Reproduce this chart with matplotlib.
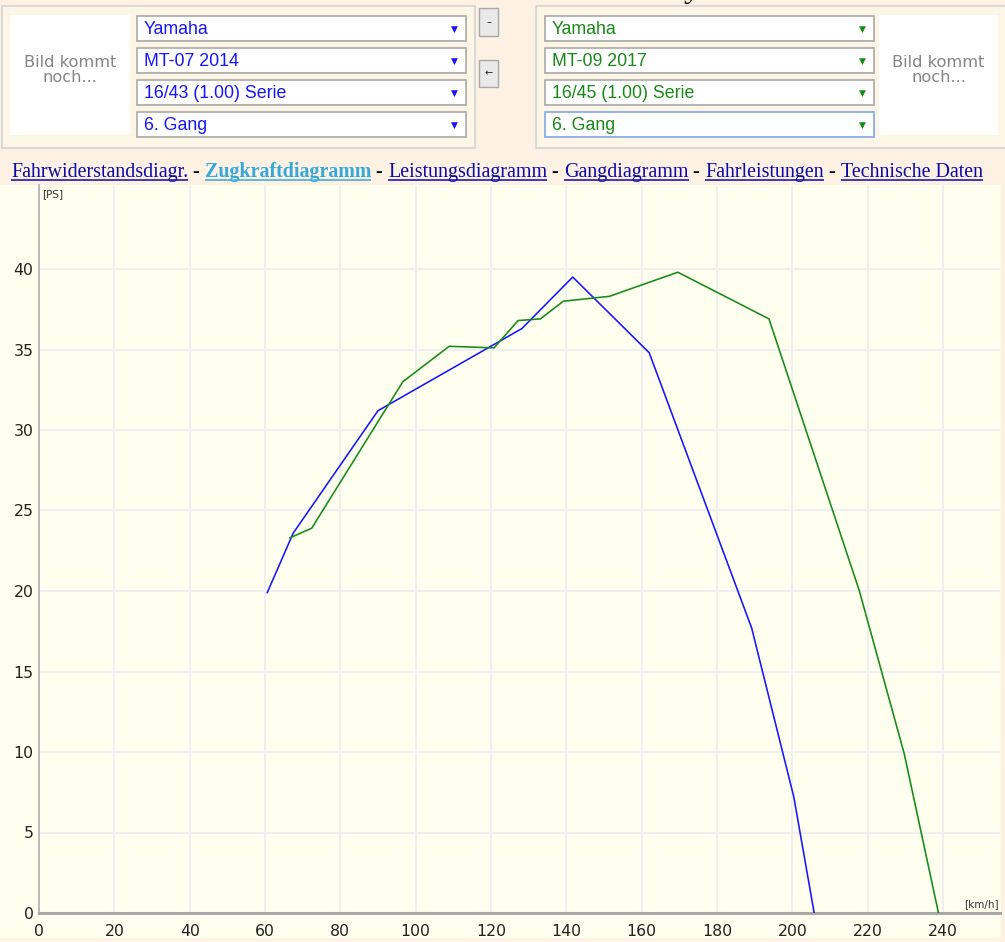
import matplotlib
matplotlib.use("Agg")
import matplotlib.pyplot as plt
from matplotlib.patches import Rectangle

# ---------------- data ----------------
blue_kmh = [60.6, 67.5, 90.0, 128.2, 141.7, 162.0, 189.2, 200.4, 205.8]
blue_ps = [19.9, 23.6, 31.2, 36.3, 39.5, 34.8, 17.7, 7.2, 0.0]
green_kmh = [66.6, 72.4, 96.6, 108.9, 120.8, 127.2, 133.1, 139.2, 151.4, 169.6, 193.8, 217.8, 229.7, 238.8]
green_ps = [23.3, 23.9, 33.0, 35.2, 35.1, 36.8, 36.9, 38.0, 38.3, 39.8, 36.9, 20.0, 9.9, 0.0]
x_ticks = list(range(0, 241, 20))
y_ticks = list(range(0, 41, 5))
left_sel = ["Yamaha", "MT-07 2014", "16/43 (1.00) Serie", "6. Gang"]
right_sel = ["Yamaha", "MT-09 2017", "16/45 (1.00) Serie", "6. Gang"]
links = ["Fahrwiderstandsdiagr.", "Zugkraftdiagramm", "Leistungsdiagramm",
         "Gangdiagramm", "Fahrleistungen", "Technische Daten"]
active_link = "Zugkraftdiagramm"
placeholder = "Bild kommt\nnoch..."

BLUE = "#1515ff"
GREEN = "#168a16"
PAGE = "#fcf1e2"
CREAM = "#fffff0"

W, H = 1005, 942
fig = plt.figure(figsize=(W / 100, H / 100), dpi=100)
fig.patch.set_facecolor(PAGE)

ui = fig.add_axes([0, 0, 1, 1])
ui.set_xlim(0, W)
ui.set_ylim(H, 0)
ui.axis("off")
ui.set_zorder(0)

# cut-off title fragment
ui.text(692, -3, "y", fontsize=24, family="Liberation Serif", color="black",
        ha="center", va="baseline")

# panels
for x0, x1 in [(2, 475), (536, 1012)]:
    ui.add_patch(Rectangle((x0, 6), x1 - x0, 142, facecolor="#fdf5e6",
                           edgecolor="#d4d4d4", lw=1.2))

# image placeholders
for x0, x1 in [(10, 130), (879, 998)]:
    ui.add_patch(Rectangle((x0, 15), x1 - x0, 120, facecolor="white", edgecolor="none"))
    ui.text((x0 + x1) / 2, 70, placeholder, ha="center", va="center", fontsize=11.7,
            color="#858585", family="DejaVu Sans", linespacing=0.95)

# dropdowns
rows = [16, 48, 80, 112]
for sels, x0, x1, col, focus in [(left_sel, 137, 466, BLUE, False),
                                  (right_sel, 545, 874, GREEN, True)]:
    for i, (txt, y0) in enumerate(zip(sels, rows)):
        ec = "#7fa8e8" if (focus and i == 3) else "#a9a9a9"
        ui.add_patch(Rectangle((x0, y0), x1 - x0, 25, facecolor="white", edgecolor=ec, lw=1.2))
        ui.text(x0 + 7, y0 + 13, txt, ha="left", va="center", fontsize=12.8,
                color=col, family="Liberation Sans")
        ui.text(x1 - 12, y0 + 13, "▼", ha="center", va="center", fontsize=6.5,
                color=col, family="DejaVu Sans")

# buttons
for (y0, y1), sym in [((8, 36), "–"), ((60, 87), "←")]:
    ui.add_patch(Rectangle((479, y0), 19, y1 - y0, facecolor="#e9e9e9",
                           edgecolor="#a8a8a8", lw=1.0))
    ui.text(488.5, (y0 + y1) / 2, sym, ha="center", va="center", fontsize=7,
            color="#222222", family="DejaVu Sans")

# cream chart canvas
ui.add_patch(Rectangle((0, 185), 1001, 753, facecolor=CREAM, edgecolor="none"))

# link line
fig.canvas.draw()
renderer = fig.canvas.get_renderer()
inv = ui.transData.inverted()
xpos = 11
base_y = 177
LFS = 14.4
for k, name in enumerate(links):
    if k > 0:
        t = ui.text(xpos, base_y, " - ", ha="left", va="baseline", fontsize=LFS,
                    family="Liberation Serif", color="black")
        bb = t.get_window_extent(renderer)
        xpos = inv.transform((bb.x1, 0))[0]
    active = name == active_link
    col = "#35a8dc" if active else "#0a0aa8"
    t = ui.text(xpos, base_y, name, ha="left", va="baseline", fontsize=LFS,
                family="Liberation Serif", color=col,
                fontweight="bold" if active else "normal")
    bb = t.get_window_extent(renderer)
    xe = inv.transform((bb.x1, 0))[0]
    ui.plot([xpos, xe], [base_y + 3, base_y + 3], color=col, lw=1.1,
            solid_capstyle="butt")
    xpos = xe

# ---------------- chart ----------------
L, R, T, B = 39, 1000, 185, 913
ax = fig.add_axes([L / W, 1 - B / H, (R - L) / W, (B - T) / H])
ax.set_zorder(2)
ax.set_facecolor(CREAM)
px_x = 904 / 240
px_y = 644 / 40
ax.set_xlim(0, (R - L) / px_x)
ax.set_ylim(0, (B - T) / px_y)

ax.set_xticks(x_ticks)
ax.set_yticks(y_ticks)
ax.grid(True, color="#eeeef2", lw=1.3, zorder=0)
ax.set_axisbelow(True)
ax.tick_params(length=0)
ax.tick_params(axis="y", pad=4, labelsize=11.3, labelcolor="#222222")
ax.tick_params(axis="x", pad=8, labelsize=11.3, labelcolor="#222222")
for s in ["top", "right"]:
    ax.spines[s].set_visible(False)
ax.spines["left"].set_color("#b4b4b4")
ax.spines["left"].set_linewidth(1.3)
ax.spines["bottom"].set_color("#a8a8a8")
ax.spines["bottom"].set_linewidth(2.2)

ax.plot(blue_kmh, blue_ps, color=BLUE, lw=1.15, zorder=3)
ax.plot(green_kmh, green_ps, color=GREEN, lw=1.15, zorder=3)

ax.text(0.003, 0.995, "[PS]", transform=ax.transAxes, ha="left", va="top",
        fontsize=7.5, color="#333333", family="DejaVu Sans")
ax.text(0.999, 0.006, "[km/h]", transform=ax.transAxes, ha="right", va="bottom",
        fontsize=7.5, color="#333333", family="DejaVu Sans")

fig.savefig("out.png", dpi=100, facecolor=PAGE)
